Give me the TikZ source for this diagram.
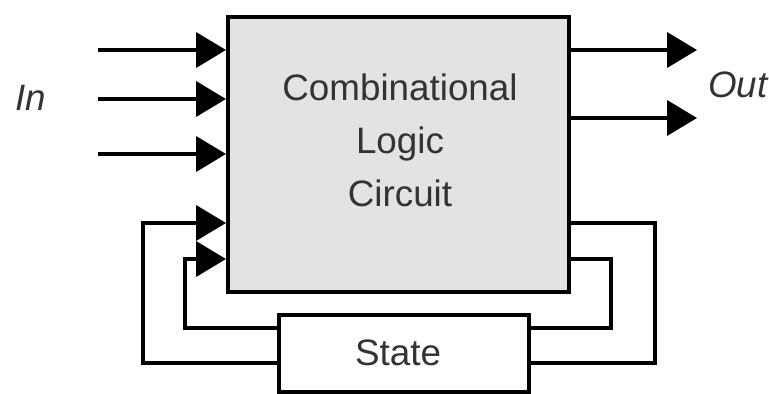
\documentclass[tikz,border=0pt]{standalone}
\usepackage{fontspec}
\setmainfont{Liberation Sans}
\usetikzlibrary{arrows.meta}
\definecolor{boxgray}{HTML}{E3E3E3}
\definecolor{txt}{HTML}{333333}
\begin{document}
\begin{tikzpicture}[x=0.5pt,y=-0.5pt,
  wire/.style={line width=2pt, line join=miter},
  arr/.style={wire, -{Triangle[length=15pt,width=17.5pt]}},
  lbl/.style={text=txt, font=\fontsize{18.4pt}{26.5pt}\selectfont, inner sep=0pt}]
\useasboundingbox (0,0) rectangle (769,394);
% boxes
\node (clc) [draw, line width=2pt, fill=boxgray, minimum width=170.5pt, minimum height=137.5pt, inner sep=0pt] at (398.5,154.5) {};
\node (clclabel) [lbl, align=center] at (400,140) {Combinational\\Logic\\Circuit};
\node (st) [draw, line width=2pt, fill=white, minimum width=125pt, minimum height=38.5pt, inner sep=0pt] at (404,353.5) {};
\node (stlabel) [lbl] at (398,353) {State};
\node (inlbl) [lbl, font=\fontsize{18.4pt}{22pt}\selectfont\itshape] at (31,98) {In};
\node (outlbl) [lbl, font=\fontsize{18.4pt}{22pt}\selectfont\itshape] at (738,85) {Out};
% inputs
\coordinate (i1) at (98,50);
\coordinate (i2) at (98,99);
\coordinate (i3) at (98,154);
\draw[arr] (i1) -- (i1 -| clc.west);
\draw[arr] (i2) -- (i2 -| clc.west);
\draw[arr] (i3) -- (i3 -| clc.west);
% outputs
\coordinate (o1) at (697,50);
\coordinate (o2) at (697,118);
\draw[arr] (o1 -| clc.east) -- (o1);
\draw[arr] (o2 -| clc.east) -- (o2);
% outer feedback loop
\coordinate (oR) at (655,223);
\coordinate (oRb) at (655,363);
\coordinate (oL) at (143,223);
\coordinate (oLb) at (143,363);
\draw[wire] (oR -| clc.east) -- (oR) -- (oRb) -- (oRb -| st.east);
\draw[arr] (oLb -| st.west) -- (oLb) -- (oL) -- (oL -| clc.west);
% inner feedback loop
\coordinate (iR) at (611,259);
\coordinate (iRb) at (611,328);
\coordinate (iL) at (185,259);
\coordinate (iLb) at (185,328);
\draw[wire] (iR -| clc.east) -- (iR) -- (iRb) -- (iRb -| st.east);
\draw[arr] (iLb -| st.west) -- (iLb) -- (iL) -- (iL -| clc.west);
\end{tikzpicture}
\end{document}
